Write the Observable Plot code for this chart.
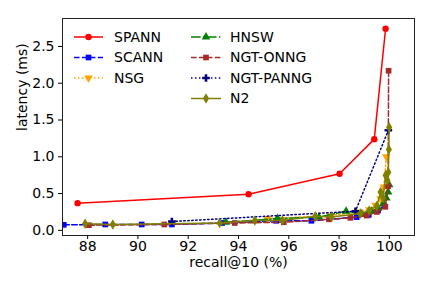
<!DOCTYPE html>
<html><head><meta charset="utf-8">
<script src="https://cdn.jsdelivr.net/npm/d3@7"></script>
<script src="https://cdn.jsdelivr.net/npm/@observablehq/plot@0.6"></script>
<style>body{margin:0;background:#fff}</style>
</head><body><div id="chart"></div>
<script>
const recallTicks = [88, 90, 92, 94, 96, 98, 100];
const latencyTicks = [0, 0.5, 1, 1.5, 2, 2.5];

const spannRecall = [87.6, 94.4, 98.02, 99.4, 99.85];
const spannLatency = [0.37, 0.49, 0.77, 1.24, 2.74];

const scannRecall = [87.05, 88.7, 90.15, 91.35, 93.35, 95.5, 96.9, 98.7, 99.18, 99.55, 99.8];
const scannLatency = [0.075, 0.08, 0.08, 0.08, 0.10, 0.13, 0.13, 0.18, 0.21, 0.27, 0.33];

const nsgRecall = [95.15, 97.65, 98.8, 99.2, 99.45, 99.65, 99.78, 99.88];
const nsgLatency = [0.16, 0.20, 0.25, 0.28, 0.34, 0.43, 0.59, 1.0];

const hnswRecall = [93.5, 95.55, 97.2, 98.28, 98.9, 99.3, 99.55, 99.75, 99.88, 99.95, 99.99];
const hnswLatency = [0.11, 0.16, 0.18, 0.26, 0.22, 0.26, 0.30, 0.36, 0.44, 0.52, 0.62];

const onngRecall = [88.05, 91.05, 93.85, 95.8, 97.6, 98.45, 99.1, 99.5, 99.84, 99.95, 99.97];
const onngLatency = [0.07, 0.08, 0.10, 0.11, 0.15, 0.17, 0.20, 0.25, 0.32, 0.60, 2.17];

const panngRecall = [91.35, 98.65, 99.96];
const panngLatency = [0.12, 0.26, 1.36];

const n2Recall = [87.9, 89.0, 93.25, 94.65, 95.75, 97.05, 97.7, 98.85, 99.2, 99.5, 99.65, 99.75, 99.85, 99.92, 99.96, 99.98, 99.99];
const n2Latency = [0.09, 0.08, 0.10, 0.135, 0.135, 0.19, 0.18, 0.23, 0.27, 0.33, 0.52, 0.44, 0.75, 0.68, 0.79, 1.10, 1.40];

const names = ["SPANN", "SCANN", "NSG", "HNSW", "NGT-ONNG", "NGT-PANNG", "N2"];
const colors = ["#ff0000", "#0000ff", "#ffa500", "#008000", "#a52a2a", "#000080", "#808000"];
const dashes = [null, "5.55,2.4", "1.5,2.475", "9.6,2.4,1.5,2.4", "5.55,2.4", "1.5,2.475", null];
const symbols = ["circle", "square", "triangle", "triangle", "square", "cross", "diamond"];
const rotations = [0, 0, 180, 0, 0, 0, 0];
const recalls = [spannRecall, scannRecall, nsgRecall, hnswRecall, onngRecall, panngRecall, n2Recall];
const latencies = [spannLatency, scannLatency, nsgLatency, hnswLatency, onngLatency, panngLatency, n2Latency];

const series = names.map((name, i) => ({
  name, color: colors[i], dash: dashes[i], symbol: symbols[i], rotate: rotations[i],
  data: recalls[i].map((r, j) => ({recall: r, latency: latencies[i][j]}))
}));

const marks = [];
for (const s of series) {
  marks.push(Plot.line(s.data, {x: "recall", y: "latency", stroke: s.color, strokeWidth: 1.5,
    strokeDasharray: s.dash || undefined, clip: true}));
  marks.push(Plot.dot(s.data, {x: "recall", y: "latency", fill: s.color, stroke: "none",
    symbol: () => s.symbol, r: 3.2, rotate: s.rotate, clip: true}));
}

const chart = Plot.plot({
  width: 432, height: 288,
  marginLeft: 62, marginRight: 18, marginTop: 18, marginBottom: 53,
  style: {fontFamily: "DejaVu Sans", fontSize: "14px", background: "white", color: "black"},
  x: {domain: [87, 101]},
  y: {domain: [-0.07, 2.88]},
  symbol: {type: "identity"},
  marks: [
    ...marks,
    Plot.frame({stroke: "#222", strokeWidth: 1}),
    Plot.axisX({ticks: recallTicks, tickSize: 4, tickPadding: 2, label: null, fontSize: 14}),
    Plot.axisY({ticks: latencyTicks, tickSize: 4, tickPadding: 4, label: null, fontSize: 14, tickFormat: d3.format(".1f")}),
    Plot.text(["recall@10 (%)"], {frameAnchor: "bottom", dy: 31, text: d => d, fontSize: 14}),
    Plot.text(["latency (ms)"], {frameAnchor: "left", dx: -40, dy: 4, rotate: -90, text: d => d, fontSize: 14})
  ]
});

document.getElementById("chart").appendChild(chart);

// legend
const svg = d3.select(chart);
const lg = svg.append("g").attr("font-family", "DejaVu Sans").attr("font-size", 14).attr("text-anchor", "start");
const cols = [{x0: 74, x1: 103, tx: 114}, {x0: 191, x1: 221, tx: 230}];
const layout = [[0, 0], [0, 1], [0, 2], [1, 0], [1, 1], [1, 2], [1, 3]];
const symMap = {circle: d3.symbolCircle, square: d3.symbolSquare, triangle: d3.symbolTriangle, cross: d3.symbolCross, diamond: d3.symbolDiamond};
series.forEach((s, i) => {
  const [c, r] = layout[i];
  const col = cols[c];
  const y = 37 + r * 20.5;
  lg.append("line").attr("x1", col.x0).attr("x2", col.x1).attr("y1", y).attr("y2", y)
    .attr("stroke", s.color).attr("stroke-width", 1.5)
    .attr("stroke-dasharray", s.dash || null);
  lg.append("path").attr("d", d3.symbol(symMap[s.symbol], 3.2 * 3.2 * Math.PI)())
    .attr("transform", `translate(${(col.x0 + col.x1) / 2},${y}) rotate(${s.rotate})`)
    .attr("fill", s.color);
  lg.append("text").attr("x", col.tx).attr("y", y).attr("dy", "0.35em").attr("text-anchor", "start")
    .attr("fill", "black").text(s.name);
});
</script></body></html>
